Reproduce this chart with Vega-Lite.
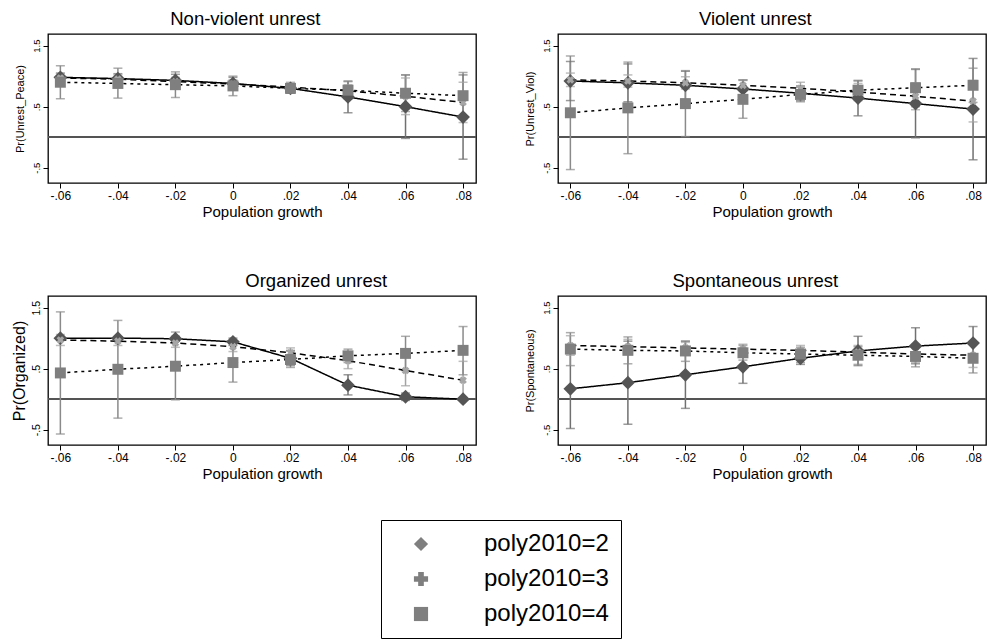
{
"$schema": "https://vega.github.io/schema/vega-lite/v6.json",
"padding": {"left": 10, "top": 8, "right": 0, "bottom": 0},
"background": "#ffffff",
"bounds": "flush",
"data": {"values": [
{"p":"A","s":"poly2010=2","x":-0.06,"y":0.98,"lo":0.91,"hi":1.05},
{"p":"A","s":"poly2010=2","x":-0.04,"y":0.96,"lo":0.88,"hi":1.04},
{"p":"A","s":"poly2010=2","x":-0.02,"y":0.93,"lo":0.83,"hi":1.03},
{"p":"A","s":"poly2010=2","x":0,"y":0.88,"lo":0.78,"hi":0.98},
{"p":"A","s":"poly2010=2","x":0.02,"y":0.80,"lo":0.72,"hi":0.88},
{"p":"A","s":"poly2010=2","x":0.04,"y":0.66,"lo":0.40,"hi":0.92},
{"p":"A","s":"poly2010=2","x":0.06,"y":0.50,"lo":-0.02,"hi":1.02},
{"p":"A","s":"poly2010=2","x":0.08,"y":0.33,"lo":-0.36,"hi":1.02},
{"p":"A","s":"poly2010=3","x":-0.06,"y":0.97,"lo":0.90,"hi":1.04},
{"p":"A","s":"poly2010=3","x":-0.04,"y":0.95,"lo":0.88,"hi":1.02},
{"p":"A","s":"poly2010=3","x":-0.02,"y":0.91,"lo":0.84,"hi":0.98},
{"p":"A","s":"poly2010=3","x":0,"y":0.87,"lo":0.80,"hi":0.94},
{"p":"A","s":"poly2010=3","x":0.02,"y":0.82,"lo":0.74,"hi":0.90},
{"p":"A","s":"poly2010=3","x":0.04,"y":0.76,"lo":0.66,"hi":0.86},
{"p":"A","s":"poly2010=3","x":0.06,"y":0.67,"lo":0.37,"hi":0.97},
{"p":"A","s":"poly2010=3","x":0.08,"y":0.57,"lo":0.24,"hi":0.90},
{"p":"A","s":"poly2010=4","x":-0.06,"y":0.90,"lo":0.63,"hi":1.17},
{"p":"A","s":"poly2010=4","x":-0.04,"y":0.88,"lo":0.64,"hi":1.13},
{"p":"A","s":"poly2010=4","x":-0.02,"y":0.86,"lo":0.65,"hi":1.07},
{"p":"A","s":"poly2010=4","x":0,"y":0.84,"lo":0.68,"hi":1.00},
{"p":"A","s":"poly2010=4","x":0.02,"y":0.80,"lo":0.73,"hi":0.87},
{"p":"A","s":"poly2010=4","x":0.04,"y":0.77,"lo":0.63,"hi":0.91},
{"p":"A","s":"poly2010=4","x":0.06,"y":0.72,"lo":0.42,"hi":1.02},
{"p":"A","s":"poly2010=4","x":0.08,"y":0.68,"lo":0.30,"hi":1.06},
{"p":"B","s":"poly2010=2","x":-0.06,"y":0.92,"lo":0.60,"hi":1.24},
{"p":"B","s":"poly2010=2","x":-0.04,"y":0.89,"lo":0.58,"hi":1.20},
{"p":"B","s":"poly2010=2","x":-0.02,"y":0.85,"lo":0.62,"hi":1.08},
{"p":"B","s":"poly2010=2","x":0,"y":0.79,"lo":0.64,"hi":0.94},
{"p":"B","s":"poly2010=2","x":0.02,"y":0.72,"lo":0.60,"hi":0.84},
{"p":"B","s":"poly2010=2","x":0.04,"y":0.64,"lo":0.35,"hi":0.93},
{"p":"B","s":"poly2010=2","x":0.06,"y":0.55,"lo":-0.01,"hi":1.11},
{"p":"B","s":"poly2010=2","x":0.08,"y":0.46,"lo":-0.37,"hi":1.29},
{"p":"B","s":"poly2010=3","x":-0.06,"y":0.94,"lo":0.83,"hi":1.05},
{"p":"B","s":"poly2010=3","x":-0.04,"y":0.92,"lo":0.82,"hi":1.02},
{"p":"B","s":"poly2010=3","x":-0.02,"y":0.89,"lo":0.79,"hi":0.99},
{"p":"B","s":"poly2010=3","x":0,"y":0.85,"lo":0.76,"hi":0.94},
{"p":"B","s":"poly2010=3","x":0.02,"y":0.80,"lo":0.70,"hi":0.90},
{"p":"B","s":"poly2010=3","x":0.04,"y":0.74,"lo":0.60,"hi":0.88},
{"p":"B","s":"poly2010=3","x":0.06,"y":0.67,"lo":0.45,"hi":0.89},
{"p":"B","s":"poly2010=3","x":0.08,"y":0.59,"lo":0.25,"hi":0.93},
{"p":"B","s":"poly2010=4","x":-0.06,"y":0.40,"lo":-0.53,"hi":1.33},
{"p":"B","s":"poly2010=4","x":-0.04,"y":0.48,"lo":-0.27,"hi":1.23},
{"p":"B","s":"poly2010=4","x":-0.02,"y":0.55,"lo":0.01,"hi":1.09},
{"p":"B","s":"poly2010=4","x":0,"y":0.62,"lo":0.31,"hi":0.93},
{"p":"B","s":"poly2010=4","x":0.02,"y":0.70,"lo":0.58,"hi":0.82},
{"p":"B","s":"poly2010=4","x":0.04,"y":0.77,"lo":0.62,"hi":0.92},
{"p":"B","s":"poly2010=4","x":0.06,"y":0.81,"lo":0.50,"hi":1.12},
{"p":"B","s":"poly2010=4","x":0.08,"y":0.85,"lo":0.57,"hi":1.13},
{"p":"C","s":"poly2010=2","x":-0.06,"y":1.00,"lo":0.99,"hi":1.01},
{"p":"C","s":"poly2010=2","x":-0.04,"y":1.00,"lo":0.98,"hi":1.02},
{"p":"C","s":"poly2010=2","x":-0.02,"y":0.99,"lo":0.95,"hi":1.03},
{"p":"C","s":"poly2010=2","x":0,"y":0.94,"lo":0.88,"hi":1.00},
{"p":"C","s":"poly2010=2","x":0.02,"y":0.67,"lo":0.55,"hi":0.79},
{"p":"C","s":"poly2010=2","x":0.04,"y":0.23,"lo":0.07,"hi":0.40},
{"p":"C","s":"poly2010=2","x":0.06,"y":0.04,"lo":-0.02,"hi":0.10},
{"p":"C","s":"poly2010=2","x":0.08,"y":0.00,"lo":-0.01,"hi":0.01},
{"p":"C","s":"poly2010=3","x":-0.06,"y":0.97,"lo":0.88,"hi":1.06},
{"p":"C","s":"poly2010=3","x":-0.04,"y":0.95,"lo":0.88,"hi":1.02},
{"p":"C","s":"poly2010=3","x":-0.02,"y":0.92,"lo":0.85,"hi":0.99},
{"p":"C","s":"poly2010=3","x":0,"y":0.86,"lo":0.78,"hi":0.94},
{"p":"C","s":"poly2010=3","x":0.02,"y":0.76,"lo":0.68,"hi":0.84},
{"p":"C","s":"poly2010=3","x":0.04,"y":0.63,"lo":0.50,"hi":0.76},
{"p":"C","s":"poly2010=3","x":0.06,"y":0.47,"lo":0.22,"hi":0.72},
{"p":"C","s":"poly2010=3","x":0.08,"y":0.31,"lo":0.00,"hi":0.62},
{"p":"C","s":"poly2010=4","x":-0.06,"y":0.43,"lo":-0.57,"hi":1.43},
{"p":"C","s":"poly2010=4","x":-0.04,"y":0.49,"lo":-0.31,"hi":1.29},
{"p":"C","s":"poly2010=4","x":-0.02,"y":0.54,"lo":-0.01,"hi":1.10},
{"p":"C","s":"poly2010=4","x":0,"y":0.60,"lo":0.28,"hi":0.92},
{"p":"C","s":"poly2010=4","x":0.02,"y":0.65,"lo":0.52,"hi":0.80},
{"p":"C","s":"poly2010=4","x":0.04,"y":0.71,"lo":0.60,"hi":0.82},
{"p":"C","s":"poly2010=4","x":0.06,"y":0.75,"lo":0.47,"hi":1.03},
{"p":"C","s":"poly2010=4","x":0.08,"y":0.80,"lo":0.40,"hi":1.19},
{"p":"D","s":"poly2010=2","x":-0.06,"y":0.17,"lo":-0.48,"hi":0.82},
{"p":"D","s":"poly2010=2","x":-0.04,"y":0.27,"lo":-0.41,"hi":0.95},
{"p":"D","s":"poly2010=2","x":-0.02,"y":0.40,"lo":-0.15,"hi":0.95},
{"p":"D","s":"poly2010=2","x":0,"y":0.53,"lo":0.26,"hi":0.80},
{"p":"D","s":"poly2010=2","x":0.02,"y":0.67,"lo":0.57,"hi":0.77},
{"p":"D","s":"poly2010=2","x":0.04,"y":0.79,"lo":0.55,"hi":1.03},
{"p":"D","s":"poly2010=2","x":0.06,"y":0.87,"lo":0.58,"hi":1.17},
{"p":"D","s":"poly2010=2","x":0.08,"y":0.92,"lo":0.65,"hi":1.19},
{"p":"D","s":"poly2010=3","x":-0.06,"y":0.88,"lo":0.72,"hi":1.04},
{"p":"D","s":"poly2010=3","x":-0.04,"y":0.86,"lo":0.74,"hi":0.98},
{"p":"D","s":"poly2010=3","x":-0.02,"y":0.84,"lo":0.75,"hi":0.93},
{"p":"D","s":"poly2010=3","x":0,"y":0.82,"lo":0.74,"hi":0.90},
{"p":"D","s":"poly2010=3","x":0.02,"y":0.80,"lo":0.72,"hi":0.88},
{"p":"D","s":"poly2010=3","x":0.04,"y":0.77,"lo":0.66,"hi":0.88},
{"p":"D","s":"poly2010=3","x":0.06,"y":0.74,"lo":0.60,"hi":0.88},
{"p":"D","s":"poly2010=3","x":0.08,"y":0.72,"lo":0.52,"hi":0.92},
{"p":"D","s":"poly2010=4","x":-0.06,"y":0.82,"lo":0.55,"hi":1.09},
{"p":"D","s":"poly2010=4","x":-0.04,"y":0.80,"lo":0.58,"hi":1.02},
{"p":"D","s":"poly2010=4","x":-0.02,"y":0.79,"lo":0.62,"hi":0.95},
{"p":"D","s":"poly2010=4","x":0,"y":0.76,"lo":0.64,"hi":0.88},
{"p":"D","s":"poly2010=4","x":0.02,"y":0.74,"lo":0.60,"hi":0.85},
{"p":"D","s":"poly2010=4","x":0.04,"y":0.72,"lo":0.57,"hi":0.86},
{"p":"D","s":"poly2010=4","x":0.06,"y":0.70,"lo":0.53,"hi":0.87},
{"p":"D","s":"poly2010=4","x":0.08,"y":0.67,"lo":0.43,"hi":0.91}
]},
"columns": 2,
"spacing": {"row": 113, "column": 82},
"resolve": {"scale": {"shape": "independent"}, "legend": {"shape": "independent"}},
"concat": [
{
"width": 428, "height": 149,
"title": {"text": "Non-violent unrest"},
"transform": [{"filter": "datum.p === 'A'"}],
"layer": [
{"mark": {"type": "rule", "color": "#555555", "strokeWidth": 1.3},
 "encoding": {"y": {"datum": 0, "type": "quantitative", "title": "Pr(Unrest_Peace)", "scale": {"domain": [-0.75, 1.69], "nice": false, "zero": false},
   "axis": {"title": "Pr(Unrest_Peace)", "values": [-0.5, 0, 0.5, 1, 1.5], "labelExpr": "replace('' + datum.value, '0.', '.')", "labelAngle": -90, "labelAlign": "center", "labelBaseline": "bottom", "labelFontSize": 9.5, "titleFontSize": 11, "tickSize": 5, "labelPadding": 2, "titlePadding": 6}}}},
{"mark": {"type": "rule", "strokeWidth": 1.5},
 "encoding": {"x": {"field": "x", "type": "quantitative", "title": "Population growth", "scale": {"domain": [-0.0643, 0.0845], "nice": false, "zero": false}, "axis": {"values": [-0.06, -0.04, -0.02, 0, 0.02, 0.04, 0.06, 0.08], "labelExpr": "replace('' + datum.value, '0.', '.')"}},
  "y": {"field": "lo", "type": "quantitative", "title": "Pr(Unrest_Peace)", "scale": {"domain": [-0.75, 1.69], "nice": false, "zero": false}}, "y2": {"field": "hi"},
  "color": {"condition": [{"test": "datum.s === 'poly2010=2'", "value": "#707070"}, {"test": "datum.s === 'poly2010=3'", "value": "#a3a3a3"}], "value": "#8a8a8a"}}},
{"mark": {"type": "tick", "orient": "horizontal", "size": 9, "thickness": 1.5},
 "encoding": {"x": {"field": "x", "type": "quantitative", "title": "Population growth"},
  "y": {"field": "lo", "type": "quantitative", "title": "Pr(Unrest_Peace)"},
  "color": {"condition": [{"test": "datum.s === 'poly2010=2'", "value": "#707070"}, {"test": "datum.s === 'poly2010=3'", "value": "#a3a3a3"}], "value": "#8a8a8a"}}},
{"mark": {"type": "tick", "orient": "horizontal", "size": 9, "thickness": 1.5},
 "encoding": {"x": {"field": "x", "type": "quantitative", "title": "Population growth"},
  "y": {"field": "hi", "type": "quantitative", "title": "Pr(Unrest_Peace)"},
  "color": {"condition": [{"test": "datum.s === 'poly2010=2'", "value": "#707070"}, {"test": "datum.s === 'poly2010=3'", "value": "#a3a3a3"}], "value": "#8a8a8a"}}},
{"mark": {"type": "line", "color": "#000000", "strokeWidth": 1.5},
 "encoding": {"x": {"field": "x", "type": "quantitative", "title": "Population growth"},
  "y": {"field": "y", "type": "quantitative", "title": "Pr(Unrest_Peace)"},
  "detail": {"field": "s", "type": "nominal"},
  "strokeDash": {"condition": [{"test": "datum.s === 'poly2010=2'", "value": [1, 0]}, {"test": "datum.s === 'poly2010=3'", "value": [6, 4]}], "value": [3, 4]}}},
{"mark": {"type": "point", "filled": true, "opacity": 1},
 "encoding": {"x": {"field": "x", "type": "quantitative", "title": "Population growth"},
  "y": {"field": "y", "type": "quantitative", "title": "Pr(Unrest_Peace)"},
  "shape": {"field": "s", "type": "nominal", "scale": {"domain": ["poly2010=2", "poly2010=3", "poly2010=4"], "range": ["diamond", "cross", "square"]}, "legend": null},
  "color": {"condition": [{"test": "datum.s === 'poly2010=2'", "value": "#555555"}, {"test": "datum.s === 'poly2010=3'", "value": "#a6a6a6"}], "value": "#7f7f7f"},
  "size": {"condition": [{"test": "datum.s === 'poly2010=2'", "value": 190}, {"test": "datum.s === 'poly2010=3'", "value": 60}], "value": 120},
  "angle": {"condition": {"test": "datum.s === 'poly2010=3'", "value": 45}, "value": 0}}}
]
},
{
"width": 428, "height": 149,
"title": {"text": "Violent unrest"},
"transform": [{"filter": "datum.p === 'B'"}],
"layer": [
{"mark": {"type": "rule", "color": "#555555", "strokeWidth": 1.3},
 "encoding": {"y": {"datum": 0, "type": "quantitative", "title": "Pr(Unrest_Viol)", "scale": {"domain": [-0.75, 1.69], "nice": false, "zero": false},
   "axis": {"title": "Pr(Unrest_Viol)", "values": [-0.5, 0, 0.5, 1, 1.5], "labelExpr": "replace('' + datum.value, '0.', '.')", "labelAngle": -90, "labelAlign": "center", "labelBaseline": "bottom", "labelFontSize": 9.5, "titleFontSize": 11, "tickSize": 5, "labelPadding": 2, "titlePadding": 6}}}},
{"mark": {"type": "rule", "strokeWidth": 1.5},
 "encoding": {"x": {"field": "x", "type": "quantitative", "title": "Population growth", "scale": {"domain": [-0.0643, 0.0845], "nice": false, "zero": false}, "axis": {"values": [-0.06, -0.04, -0.02, 0, 0.02, 0.04, 0.06, 0.08], "labelExpr": "replace('' + datum.value, '0.', '.')"}},
  "y": {"field": "lo", "type": "quantitative", "title": "Pr(Unrest_Viol)", "scale": {"domain": [-0.75, 1.69], "nice": false, "zero": false}}, "y2": {"field": "hi"},
  "color": {"condition": [{"test": "datum.s === 'poly2010=2'", "value": "#707070"}, {"test": "datum.s === 'poly2010=3'", "value": "#a3a3a3"}], "value": "#8a8a8a"}}},
{"mark": {"type": "tick", "orient": "horizontal", "size": 9, "thickness": 1.5},
 "encoding": {"x": {"field": "x", "type": "quantitative", "title": "Population growth"},
  "y": {"field": "lo", "type": "quantitative", "title": "Pr(Unrest_Viol)"},
  "color": {"condition": [{"test": "datum.s === 'poly2010=2'", "value": "#707070"}, {"test": "datum.s === 'poly2010=3'", "value": "#a3a3a3"}], "value": "#8a8a8a"}}},
{"mark": {"type": "tick", "orient": "horizontal", "size": 9, "thickness": 1.5},
 "encoding": {"x": {"field": "x", "type": "quantitative", "title": "Population growth"},
  "y": {"field": "hi", "type": "quantitative", "title": "Pr(Unrest_Viol)"},
  "color": {"condition": [{"test": "datum.s === 'poly2010=2'", "value": "#707070"}, {"test": "datum.s === 'poly2010=3'", "value": "#a3a3a3"}], "value": "#8a8a8a"}}},
{"mark": {"type": "line", "color": "#000000", "strokeWidth": 1.5},
 "encoding": {"x": {"field": "x", "type": "quantitative", "title": "Population growth"},
  "y": {"field": "y", "type": "quantitative", "title": "Pr(Unrest_Viol)"},
  "detail": {"field": "s", "type": "nominal"},
  "strokeDash": {"condition": [{"test": "datum.s === 'poly2010=2'", "value": [1, 0]}, {"test": "datum.s === 'poly2010=3'", "value": [6, 4]}], "value": [3, 4]}}},
{"mark": {"type": "point", "filled": true, "opacity": 1},
 "encoding": {"x": {"field": "x", "type": "quantitative", "title": "Population growth"},
  "y": {"field": "y", "type": "quantitative", "title": "Pr(Unrest_Viol)"},
  "shape": {"field": "s", "type": "nominal", "scale": {"domain": ["poly2010=2", "poly2010=3", "poly2010=4"], "range": ["diamond", "cross", "square"]}, "legend": null},
  "color": {"condition": [{"test": "datum.s === 'poly2010=2'", "value": "#555555"}, {"test": "datum.s === 'poly2010=3'", "value": "#a6a6a6"}], "value": "#7f7f7f"},
  "size": {"condition": [{"test": "datum.s === 'poly2010=2'", "value": 190}, {"test": "datum.s === 'poly2010=3'", "value": 60}], "value": 120},
  "angle": {"condition": {"test": "datum.s === 'poly2010=3'", "value": 45}, "value": 0}}}
]
},
{
"width": 428, "height": 149,
"title": {"text": "Organized unrest"},
"transform": [{"filter": "datum.p === 'C'"}],
"layer": [
{"mark": {"type": "rule", "color": "#555555", "strokeWidth": 1.3},
 "encoding": {"y": {"datum": 0, "type": "quantitative", "title": "Pr(Organized)", "scale": {"domain": [-0.75, 1.69], "nice": false, "zero": false},
   "axis": {"title": "Pr(Organized)", "values": [-0.5, 0, 0.5, 1, 1.5], "labelExpr": "replace('' + datum.value, '0.', '.')", "labelAngle": -90, "labelAlign": "center", "labelBaseline": "bottom", "labelFontSize": 10.5, "titleFontSize": 16, "tickSize": 5, "labelPadding": 2, "titlePadding": 4}}}},
{"mark": {"type": "rule", "strokeWidth": 1.5},
 "encoding": {"x": {"field": "x", "type": "quantitative", "title": "Population growth", "scale": {"domain": [-0.0643, 0.0845], "nice": false, "zero": false}, "axis": {"values": [-0.06, -0.04, -0.02, 0, 0.02, 0.04, 0.06, 0.08], "labelExpr": "replace('' + datum.value, '0.', '.')"}},
  "y": {"field": "lo", "type": "quantitative", "title": "Pr(Organized)", "scale": {"domain": [-0.75, 1.69], "nice": false, "zero": false}}, "y2": {"field": "hi"},
  "color": {"condition": [{"test": "datum.s === 'poly2010=2'", "value": "#707070"}, {"test": "datum.s === 'poly2010=3'", "value": "#a3a3a3"}], "value": "#8a8a8a"}}},
{"mark": {"type": "tick", "orient": "horizontal", "size": 9, "thickness": 1.5},
 "encoding": {"x": {"field": "x", "type": "quantitative", "title": "Population growth"},
  "y": {"field": "lo", "type": "quantitative", "title": "Pr(Organized)"},
  "color": {"condition": [{"test": "datum.s === 'poly2010=2'", "value": "#707070"}, {"test": "datum.s === 'poly2010=3'", "value": "#a3a3a3"}], "value": "#8a8a8a"}}},
{"mark": {"type": "tick", "orient": "horizontal", "size": 9, "thickness": 1.5},
 "encoding": {"x": {"field": "x", "type": "quantitative", "title": "Population growth"},
  "y": {"field": "hi", "type": "quantitative", "title": "Pr(Organized)"},
  "color": {"condition": [{"test": "datum.s === 'poly2010=2'", "value": "#707070"}, {"test": "datum.s === 'poly2010=3'", "value": "#a3a3a3"}], "value": "#8a8a8a"}}},
{"mark": {"type": "line", "color": "#000000", "strokeWidth": 1.5},
 "encoding": {"x": {"field": "x", "type": "quantitative", "title": "Population growth"},
  "y": {"field": "y", "type": "quantitative", "title": "Pr(Organized)"},
  "detail": {"field": "s", "type": "nominal"},
  "strokeDash": {"condition": [{"test": "datum.s === 'poly2010=2'", "value": [1, 0]}, {"test": "datum.s === 'poly2010=3'", "value": [6, 4]}], "value": [3, 4]}}},
{"mark": {"type": "point", "filled": true, "opacity": 1},
 "encoding": {"x": {"field": "x", "type": "quantitative", "title": "Population growth"},
  "y": {"field": "y", "type": "quantitative", "title": "Pr(Organized)"},
  "shape": {"field": "s", "type": "nominal", "scale": {"domain": ["poly2010=2", "poly2010=3", "poly2010=4"], "range": ["diamond", "cross", "square"]},
   "legend": {"orient": "none", "legendX": 333, "legendY": 224, "title": null, "direction": "vertical", "labelFontSize": 24, "labelFont": "Liberation Sans", "labelColor": "#000000", "symbolSize": 200, "symbolFillColor": "#666666", "symbolStrokeWidth": 0, "symbolOffset": 16, "labelOffset": 51, "padding": 12, "rowPadding": 11, "strokeColor": "#000000", "fillColor": "#ffffff"}},
  "color": {"condition": [{"test": "datum.s === 'poly2010=2'", "value": "#555555"}, {"test": "datum.s === 'poly2010=3'", "value": "#a6a6a6"}], "value": "#7f7f7f"},
  "size": {"condition": [{"test": "datum.s === 'poly2010=2'", "value": 190}, {"test": "datum.s === 'poly2010=3'", "value": 60}], "value": 120},
  "angle": {"condition": {"test": "datum.s === 'poly2010=3'", "value": 45}, "value": 0}}}
]
},
{
"width": 428, "height": 149,
"title": {"text": "Spontaneous unrest"},
"transform": [{"filter": "datum.p === 'D'"}],
"layer": [
{"mark": {"type": "rule", "color": "#555555", "strokeWidth": 1.3},
 "encoding": {"y": {"datum": 0, "type": "quantitative", "title": "Pr(Spontaneous)", "scale": {"domain": [-0.75, 1.69], "nice": false, "zero": false},
   "axis": {"title": "Pr(Spontaneous)", "values": [-0.5, 0, 0.5, 1, 1.5], "labelExpr": "replace('' + datum.value, '0.', '.')", "labelAngle": -90, "labelAlign": "center", "labelBaseline": "bottom", "labelFontSize": 9.5, "titleFontSize": 11, "tickSize": 5, "labelPadding": 2, "titlePadding": 6}}}},
{"mark": {"type": "rule", "strokeWidth": 1.5},
 "encoding": {"x": {"field": "x", "type": "quantitative", "title": "Population growth", "scale": {"domain": [-0.0643, 0.0845], "nice": false, "zero": false}, "axis": {"values": [-0.06, -0.04, -0.02, 0, 0.02, 0.04, 0.06, 0.08], "labelExpr": "replace('' + datum.value, '0.', '.')"}},
  "y": {"field": "lo", "type": "quantitative", "title": "Pr(Spontaneous)", "scale": {"domain": [-0.75, 1.69], "nice": false, "zero": false}}, "y2": {"field": "hi"},
  "color": {"condition": [{"test": "datum.s === 'poly2010=2'", "value": "#707070"}, {"test": "datum.s === 'poly2010=3'", "value": "#a3a3a3"}], "value": "#8a8a8a"}}},
{"mark": {"type": "tick", "orient": "horizontal", "size": 9, "thickness": 1.5},
 "encoding": {"x": {"field": "x", "type": "quantitative", "title": "Population growth"},
  "y": {"field": "lo", "type": "quantitative", "title": "Pr(Spontaneous)"},
  "color": {"condition": [{"test": "datum.s === 'poly2010=2'", "value": "#707070"}, {"test": "datum.s === 'poly2010=3'", "value": "#a3a3a3"}], "value": "#8a8a8a"}}},
{"mark": {"type": "tick", "orient": "horizontal", "size": 9, "thickness": 1.5},
 "encoding": {"x": {"field": "x", "type": "quantitative", "title": "Population growth"},
  "y": {"field": "hi", "type": "quantitative", "title": "Pr(Spontaneous)"},
  "color": {"condition": [{"test": "datum.s === 'poly2010=2'", "value": "#707070"}, {"test": "datum.s === 'poly2010=3'", "value": "#a3a3a3"}], "value": "#8a8a8a"}}},
{"mark": {"type": "line", "color": "#000000", "strokeWidth": 1.5},
 "encoding": {"x": {"field": "x", "type": "quantitative", "title": "Population growth"},
  "y": {"field": "y", "type": "quantitative", "title": "Pr(Spontaneous)"},
  "detail": {"field": "s", "type": "nominal"},
  "strokeDash": {"condition": [{"test": "datum.s === 'poly2010=2'", "value": [1, 0]}, {"test": "datum.s === 'poly2010=3'", "value": [6, 4]}], "value": [3, 4]}}},
{"mark": {"type": "point", "filled": true, "opacity": 1},
 "encoding": {"x": {"field": "x", "type": "quantitative", "title": "Population growth"},
  "y": {"field": "y", "type": "quantitative", "title": "Pr(Spontaneous)"},
  "shape": {"field": "s", "type": "nominal", "scale": {"domain": ["poly2010=2", "poly2010=3", "poly2010=4"], "range": ["diamond", "cross", "square"]}, "legend": null},
  "color": {"condition": [{"test": "datum.s === 'poly2010=2'", "value": "#555555"}, {"test": "datum.s === 'poly2010=3'", "value": "#a6a6a6"}], "value": "#7f7f7f"},
  "size": {"condition": [{"test": "datum.s === 'poly2010=2'", "value": 190}, {"test": "datum.s === 'poly2010=3'", "value": 60}], "value": 120},
  "angle": {"condition": {"test": "datum.s === 'poly2010=3'", "value": 45}, "value": 0}}}
]
}
],
"config": {
 "font": "Liberation Sans",
 "view": {"stroke": "#000000", "strokeWidth": 1.3},
 "axis": {"domain": false, "grid": false, "tickColor": "#000000", "labelColor": "#000000", "titleColor": "#000000", "titleFontWeight": "normal", "labelFont": "Liberation Sans", "titleFont": "Liberation Sans"},
 "axisX": {"labelFontSize": 12, "titleFontSize": 15, "tickSize": 5, "labelPadding": 2, "titlePadding": 3},
 "title": {"fontSize": 18.5, "fontWeight": "normal", "font": "Liberation Sans", "color": "#000000", "offset": 6, "frame": "bounds", "anchor": "middle"}
}
}
